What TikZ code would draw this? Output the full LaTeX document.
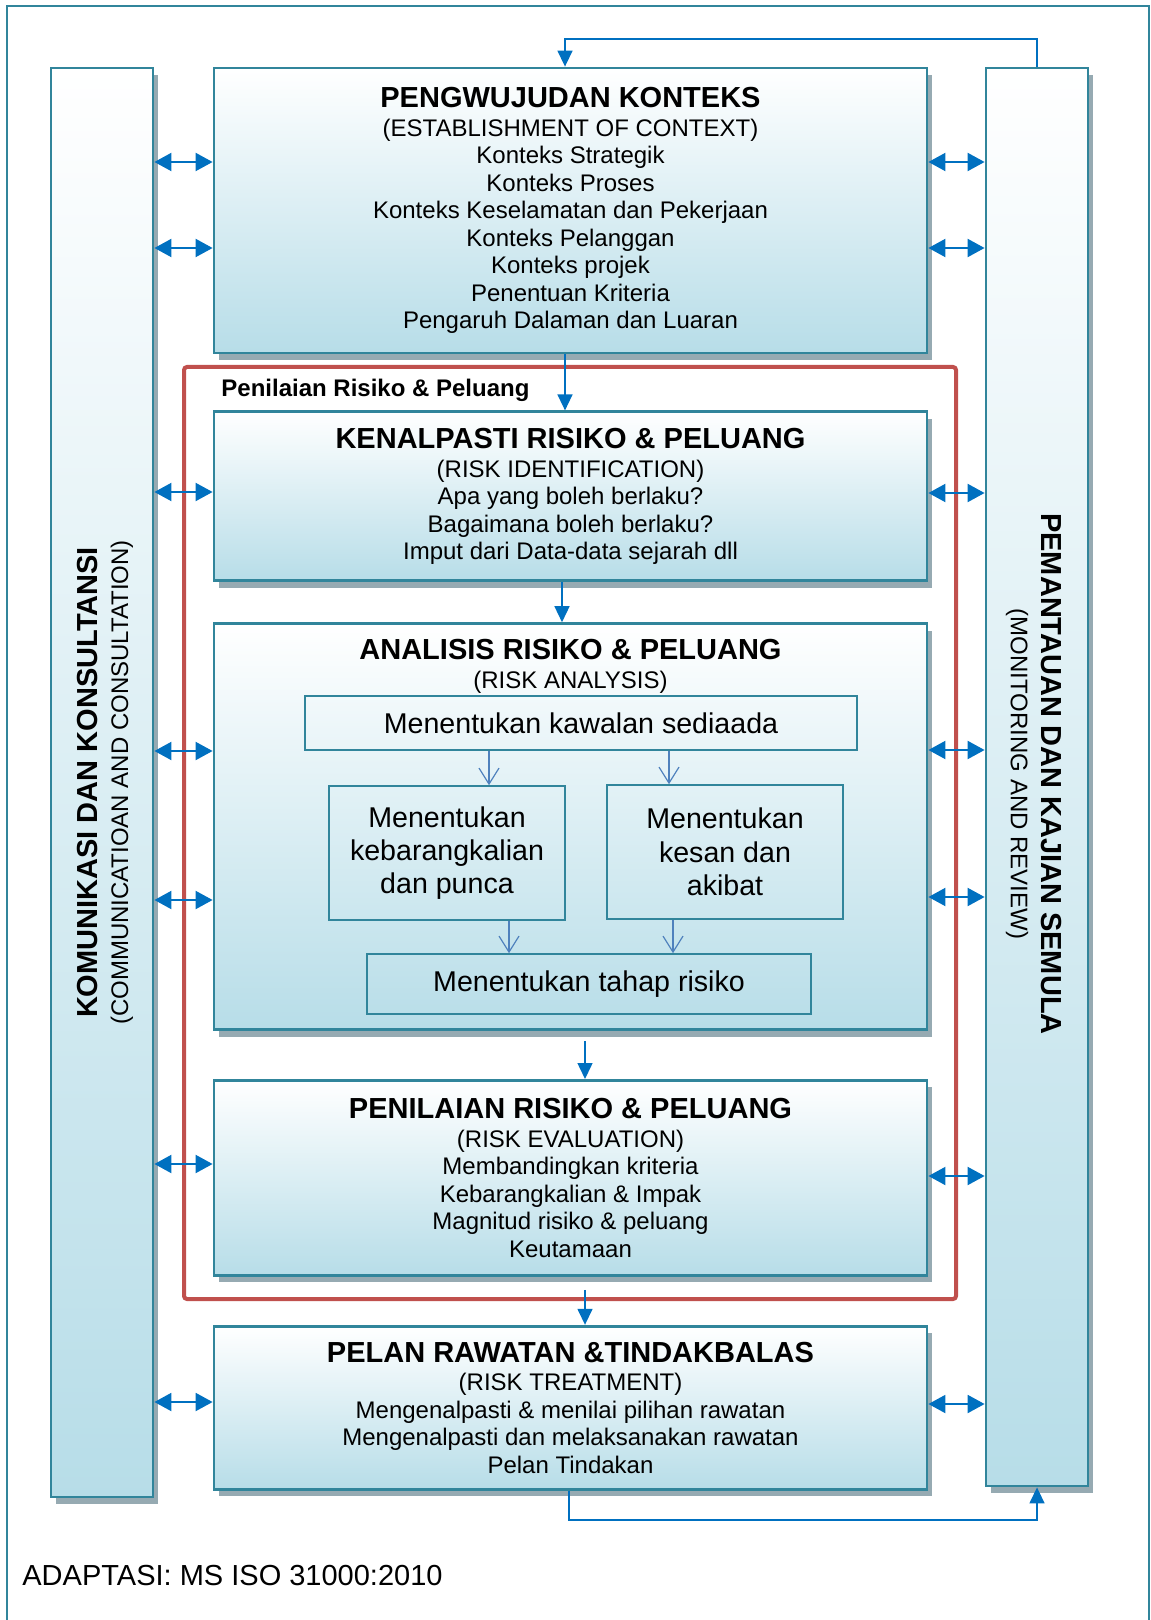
\documentclass[tikz,border=0pt]{standalone}
\usepackage{fontspec}
\setmainfont{Liberation Sans}
\usepackage{tikz}
\usetikzlibrary{arrows.meta,shadows,positioning}
\definecolor{tealframe}{RGB}{49,133,155}
\definecolor{paleblue}{RGB}{183,221,232}
\definecolor{linkblue}{RGB}{0,112,192}
\definecolor{stepblue}{RGB}{79,129,189}
\definecolor{riskred}{RGB}{192,80,77}
\definecolor{shadowgrey}{RGB}{150,170,178}
\newcommand{\stagetitle}[1]{{\fontsize{14.5}{16}\selectfont\bfseries #1}}

\begin{document}
\begin{tikzpicture}
  [
  x=0.5pt,y=-0.5pt,
  stage/.style={rectangle,draw=tealframe,line width=1.4pt,top color=white,bottom color=paleblue,
    drop shadow={shadow xshift=2.5pt,shadow yshift=-3.5pt,fill=shadowgrey,opacity=1},
    inner sep=0pt,minimum width=356.5pt,align=center,font=\fontsize{12}{13.75}\selectfont},
  column/.style={stage,minimum width=51pt},
  stepbox/.style={rectangle,draw=tealframe,line width=0.8pt,inner sep=0pt,align=center,font=\fontsize{14.3}{16.7}\selectfont},
  duplex/.style={{Triangle[length=8.5pt,width=9pt]}-{Triangle[length=8.5pt,width=9pt]},draw=linkblue,line width=1pt},
  flow/.style={-{Triangle[length=8pt,width=7.5pt]},draw=linkblue,line width=0.75pt},
  pass/.style={-{Straight Barb[length=8pt,width=10pt]},draw=stepblue,line width=0.6pt}
  ]
  \useasboundingbox (0,0) rectangle (1150,1620);
  \draw[tealframe,line width=1pt] (7,1620) -- (7,6) -- (1149,6) -- (1149,1620);

  \node[draw=riskred,line width=2pt,rounded corners=1.5pt,minimum width=386pt,minimum height=466pt] (risk assessment) at (570,833) {};
  \node[anchor=west,inner sep=0pt,font=\fontsize{12}{14}\selectfont\bfseries] (assessment label)
    at ([xshift=19.5pt,yshift=-12.5pt]risk assessment.north west) {Penilaian Risiko \& Peluang};

  \node[column,minimum height=714.5pt] (communication) at (102,782.5) {};
  \node[column,minimum height=709pt] (monitoring) at (1037,777) {};
  \node[rotate=90,align=center,font=\fontsize{12}{13.75}\selectfont] (communication text)
    at ([xshift=1.5pt]communication.center) {\stagetitle{KOMUNIKASI DAN KONSULTANSI}\\[1.7pt] (COMMUNICATIOAN AND CONSULTATION)};
  \node[rotate=-90,align=center,font=\fontsize{12}{13.75}\selectfont] (monitoring text)
    at ([xshift=-1.5pt,yshift=1.5pt]monitoring.center) {\stagetitle{PEMANTAUAN DAN KAJIAN SEMULA}\\[1.7pt] (MONITORING AND REVIEW)};

  \node[stage,minimum height=142.5pt] (context) at (570.5,210.5)
    {\stagetitle{PENGWUJUDAN KONTEKS}\\[0.7pt] (ESTABLISHMENT OF CONTEXT)\\ Konteks Strategik\\ Konteks Proses\\
     Konteks Keselamatan dan Pekerjaan\\ Konteks Pelanggan\\ Konteks projek\\ Penentuan Kriteria\\ Pengaruh Dalaman dan Luaran};
  \node[stage,minimum height=84.5pt] (identification) [below=28pt of context]
    {\stagetitle{KENALPASTI RISIKO \& PELUANG}\\[0.7pt] (RISK IDENTIFICATION)\\ Apa yang boleh berlaku?\\
     Bagaimana boleh berlaku?\\ Imput dari Data-data sejarah dll};
  \node[stage,minimum height=203pt] (analysis) [below=20pt of identification] {};
  \node[stage,minimum height=97.5pt] (evaluation) [below=24pt of analysis]
    {\stagetitle{PENILAIAN RISIKO \& PELUANG}\\[0.7pt] (RISK EVALUATION)\\ Membandingkan kriteria\\
     Kebarangkalian \& Impak\\ Magnitud risiko \& peluang\\ Keutamaan};
  \node[stage,minimum height=81.5pt] (treatment) [below=24pt of evaluation]
    {\stagetitle{PELAN RAWATAN \&TINDAKBALAS}\\[0.7pt] (RISK TREATMENT)\\ Mengenalpasti \& menilai pilihan rawatan\\
     Mengenalpasti dan melaksanakan rawatan\\ Pelan Tindakan};

  \node[align=center,inner sep=0pt,font=\fontsize{12}{13.75}\selectfont] (analysis title) [below=8.5pt of analysis.north]
    {\stagetitle{ANALISIS RISIKO \& PELUANG}\\[0.7pt] (RISK ANALYSIS)};
  \node[stepbox,minimum width=276pt,minimum height=27pt] (existing controls) at (581,723) {Menentukan kawalan sediaada};
  \node[stepbox,minimum width=118pt,minimum height=67pt] (likelihood) at (447,853) {Menentukan\\ kebarangkalian\\ dan punca};
  \node[stepbox,minimum width=118pt,minimum height=67pt] (consequence) at (725,852) {Menentukan\\ kesan dan\\ akibat};
  \node[stepbox,minimum width=222pt,minimum height=30pt] (risk level) at (589,984) {Menentukan tahap risiko};

  \draw[pass] (existing controls.south -| 489,0) -- (likelihood.north -| 489,0);
  \draw[pass] (existing controls.south -| 669,0) -- (consequence.north -| 669,0);
  \draw[pass] (likelihood.south -| 509,0) -- (risk level.north -| 509,0);
  \draw[pass] (consequence.south -| 673,0) -- (risk level.north -| 673,0);

  \foreach \y/\n in {162/context,248/context,492/identification,751/analysis,900/analysis,1164/evaluation,1402/treatment}
    \draw[duplex] (communication.east |- 0,\y) -- (\n.west |- 0,\y);
  \foreach \y/\n in {162/context,248/context,493/identification,750/analysis,897/analysis,1176/evaluation,1404/treatment}
    \draw[duplex] (\n.east |- 0,\y) -- (monitoring.west |- 0,\y);

  \draw[flow] (context.south -| 565,0) -- (identification.north -| 565,0);
  \draw[flow] (identification.south -| 562,0) -- (analysis.north -| 562,0);
  \draw[flow] ([yshift=-5pt]analysis.south -| 585,0) -- (evaluation.north -| 585,0);
  \draw[flow] ([yshift=-6.5pt]evaluation.south -| 585,0) -- (treatment.north -| 585,0);

  \coordinate (loop top) at (565,39);
  \draw[flow] (monitoring.north) |- (loop top) -- (loop top |- context.north);
  \coordinate (loop bottom) at (569,1520);
  \draw[flow] (loop bottom |- treatment.south) -- (loop bottom) -| (monitoring.south);

  \node[anchor=west,inner sep=0pt,font=\fontsize{14.5}{17}\selectfont] (source) at (22,1575) {ADAPTASI: MS ISO 31000:2010};
\end{tikzpicture}
\end{document}
